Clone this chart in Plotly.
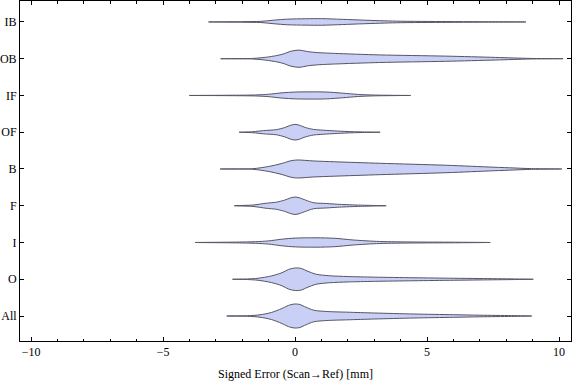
import plotly.graph_objects as go

# Categories, bottom to top
categories = ["All", "O", "I", "F", "B", "OF", "IF", "OB", "IB"]

# Density profiles: error value (mm) and relative half-width
all_x = [-2.59, -1.8, -1.33, -0.9, -0.5, -0.25, -0.08, 0.05, 0.18, 0.35, 0.7, 1.2, 2.0, 3.0, 4.5, 6.0, 7.0, 8.2, 8.96]
all_d = [0, 0.3, 1.2, 3.5, 7.5, 10.6, 11.8, 12, 11.5, 9.5, 5.8, 4.5, 3.8, 3.0, 2.0, 1.3, 0.8, 0.4, 0]

o_x = [-2.37, -1.8, -1.4, -0.9, -0.5, -0.25, -0.05, 0.1, 0.25, 0.45, 0.8, 1.3, 2.0, 3.0, 4.5, 6.0, 7.0, 8.3, 9.02]
o_d = [0, 0.3, 1.0, 3.3, 6.5, 9.8, 11.1, 11.3, 10.7, 8.3, 5.0, 3.5, 2.7, 2.1, 1.5, 1.0, 0.7, 0.3, 0]

i_x = [-3.79, -2.5, -1.5, -1.0, -0.5, 0.0, 0.8, 1.5, 2.2, 3.2, 4.5, 6.0, 7.39]
i_d = [0, 0.3, 0.8, 1.6, 3.3, 4.4, 4.7, 4.2, 2.5, 1.0, 0.5, 0.3, 0]

f_x = [-2.3, -1.6, -1.1, -0.7, -0.4, -0.15, 0.0, 0.15, 0.4, 0.7, 1.2, 1.6, 2.35, 3.45]
f_d = [0, 0.7, 2.5, 3.6, 5.6, 8.0, 8.7, 8.0, 5.6, 3.0, 2.2, 1.5, 0.7, 0]

b_x = [-2.84, -1.6, -1.0, -0.5, -0.15, 0.1, 0.7, 1.5, 3.2, 5.75, 7.5, 8.3, 8.9, 10.1]
b_d = [0, 0.3, 2.5, 5.5, 8.3, 9.0, 8.0, 7.2, 5.7, 3.7, 1.8, 1.0, 0.4, 0]

of_x = [-2.12, -1.6, -1.2, -0.7, -0.4, -0.15, 0.0, 0.15, 0.4, 0.7, 1.2, 1.6, 2.2, 3.22]
of_d = [0, 0.5, 1.6, 2.6, 4.6, 7.1, 7.8, 7.1, 4.6, 2.8, 1.8, 1.2, 0.5, 0]

if_x = [-4.01, -2.5, -1.5, -1.0, -0.5, 0.0, 0.6, 1.2, 1.8, 2.4, 3.0, 4.38]
if_d = [0, 0.2, 0.5, 1.2, 2.6, 3.4, 3.6, 3.4, 2.3, 1.0, 0.4, 0]

ob_x = [-2.82, -1.6, -1.0, -0.5, -0.15, 0.15, 0.5, 0.8, 1.5, 3.2, 5.7, 7.6, 8.9, 10.15]
ob_d = [0, 0.3, 1.8, 4.3, 7.5, 8.6, 7.0, 6.2, 5.3, 3.8, 2.6, 1.3, 0.3, 0]

ib_x = [-3.28, -2.0, -1.3, -0.8, -0.3, 0.4, 1.0, 1.8, 2.6, 3.85, 5.75, 7.0, 8.74]
ib_d = [0, 0.3, 0.6, 1.8, 2.8, 3.2, 3.3, 2.6, 1.8, 0.8, 0.4, 0.2, 0]

profiles = [(all_x, all_d), (o_x, o_d), (i_x, i_d), (f_x, f_d), (b_x, b_d),
            (of_x, of_d), (if_x, if_d), (ob_x, ob_d), (ib_x, ib_d)]

x_ticks = [-10, -5, 0, 5, 10]
x_ticktext = ["\u221210", "\u22125", "0", "5", "10"]
x_label = "Signed Error (Scan\u2192Ref) [mm]"

WIDTH_SCALE = 1 / 36.75  # density unit -> category-axis unit
FILL = "rgb(202,207,245)"
EDGE = "rgb(85,85,100)"
FONT = "Liberation Serif"

fig = go.Figure()
for k, (xs, ds) in enumerate(profiles):
    pos = k + 1
    top = [pos + d * WIDTH_SCALE for d in ds]
    bot = [pos - d * WIDTH_SCALE for d in ds]
    px = list(xs) + list(xs[::-1])
    py = top + bot[::-1]
    fig.add_trace(go.Scatter(
        x=px, y=py, mode="lines", fill="toself", fillcolor=FILL,
        line=dict(color=EDGE, width=1, shape="spline", smoothing=0.8),
        hoverinfo="skip", showlegend=False,
    ))

axis_common = dict(
    showline=True, linecolor="black", linewidth=1, mirror="allticks",
    ticks="inside", tickcolor="black", showgrid=False, zeroline=False,
    tickfont=dict(family=FONT, size=12, color="black"),
)

fig.update_xaxes(
    range=[-10.42, 10.45], tickvals=x_ticks, ticktext=x_ticktext, ticklen=4,
    minor=dict(ticks="inside", dtick=1, ticklen=2.5, tickcolor="black", showgrid=False),
    title=dict(text=x_label, font=dict(family=FONT, size=12, color="black"), standoff=12),
    automargin=False, **axis_common,
)
fig.update_yaxes(
    range=[0.32, 9.57], tickvals=list(range(1, len(categories) + 1)), ticktext=categories,
    ticklen=4, automargin=False, **axis_common,
)

fig.update_layout(
    width=576, height=381,
    margin=dict(l=20, r=5, t=1, b=40),
    paper_bgcolor="white", plot_bgcolor="white",
    showlegend=False,
)

fig.write_html("out.html", config={"displayModeBar": False},
               post_script="document.body.style.margin='0px';")
